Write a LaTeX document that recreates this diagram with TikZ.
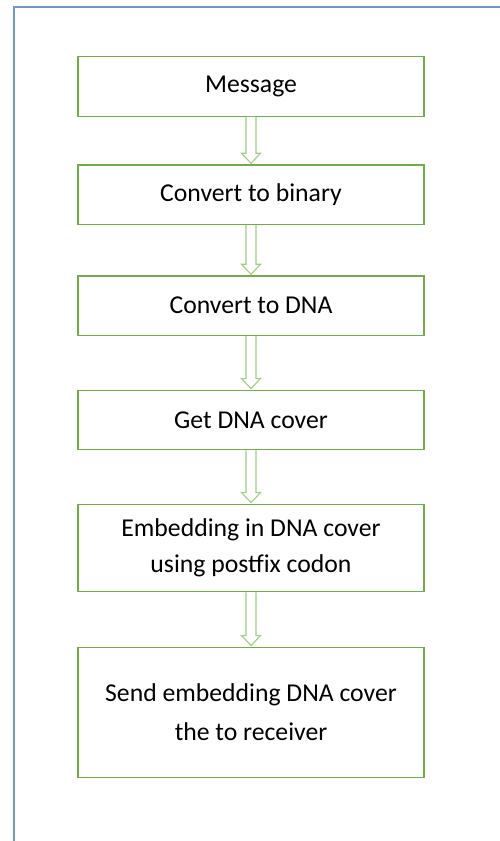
\documentclass[tikz,border=0pt]{standalone}
\usepackage{fontspec}
\setmainfont{Carlito}
\usetikzlibrary{calc}

\definecolor{boxgreen}{RGB}{112,173,71}
\definecolor{arrgreen}{RGB}{160,205,130}
\definecolor{frameblue}{RGB}{117,152,192}

\tikzset{stepbox/.style={draw=boxgreen,line width=1.4pt,minimum width=346pt,
                         align=center,font=\fontsize{25.7}{36}\selectfont,inner sep=0pt},
         flowarr/.style={draw=arrgreen,line width=1.1pt,fill=white}}

% Hollow block arrow between two boxes.
\newcommand{\flowarrow}[2]{%
  \draw[flowarr] let \p1=(#1.south), \p2=(#2.north) in
    (\x1-5pt,\y1) -- (\x1-5pt,\y2+11pt) -- (\x1-9.5pt,\y2+11pt) -- (\x1,\y2+1pt)
    -- (\x1+9.5pt,\y2+11pt) -- (\x1+5pt,\y2+11pt) -- (\x1+5pt,\y1);}

\begin{document}
\begin{tikzpicture}[x=1pt,y=-1pt]
\useasboundingbox (0,0) rectangle (500,841);
\draw[frameblue,line width=2pt] (14,841) -- (14,7) -- (500,7);

\node[stepbox,minimum height=59.5pt] (msg)    at (251,86.5) {Message};
\node[stepbox,minimum height=59.5pt] (binary) at (251,194.7){Convert to binary};
\node[stepbox,minimum height=59.5pt] (dna)    at (251,305.7){Convert to DNA};
\node[stepbox,minimum height=59.5pt] (cover)  at (251,420)  {Get DNA cover};
\node[stepbox,minimum height=87.5pt] (embed)  at (251,548)  {Embedding in DNA cover\\using postfix codon};
\node[stepbox,minimum height=130.5pt,font=\fontsize{25.7}{39}\selectfont]
                                     (send)   at (251,712.5){Send embedding DNA cover\\the to receiver};

\flowarrow{msg}{binary}
\flowarrow{binary}{dna}
\flowarrow{dna}{cover}
\flowarrow{cover}{embed}
\flowarrow{embed}{send}
\end{tikzpicture}
\end{document}
